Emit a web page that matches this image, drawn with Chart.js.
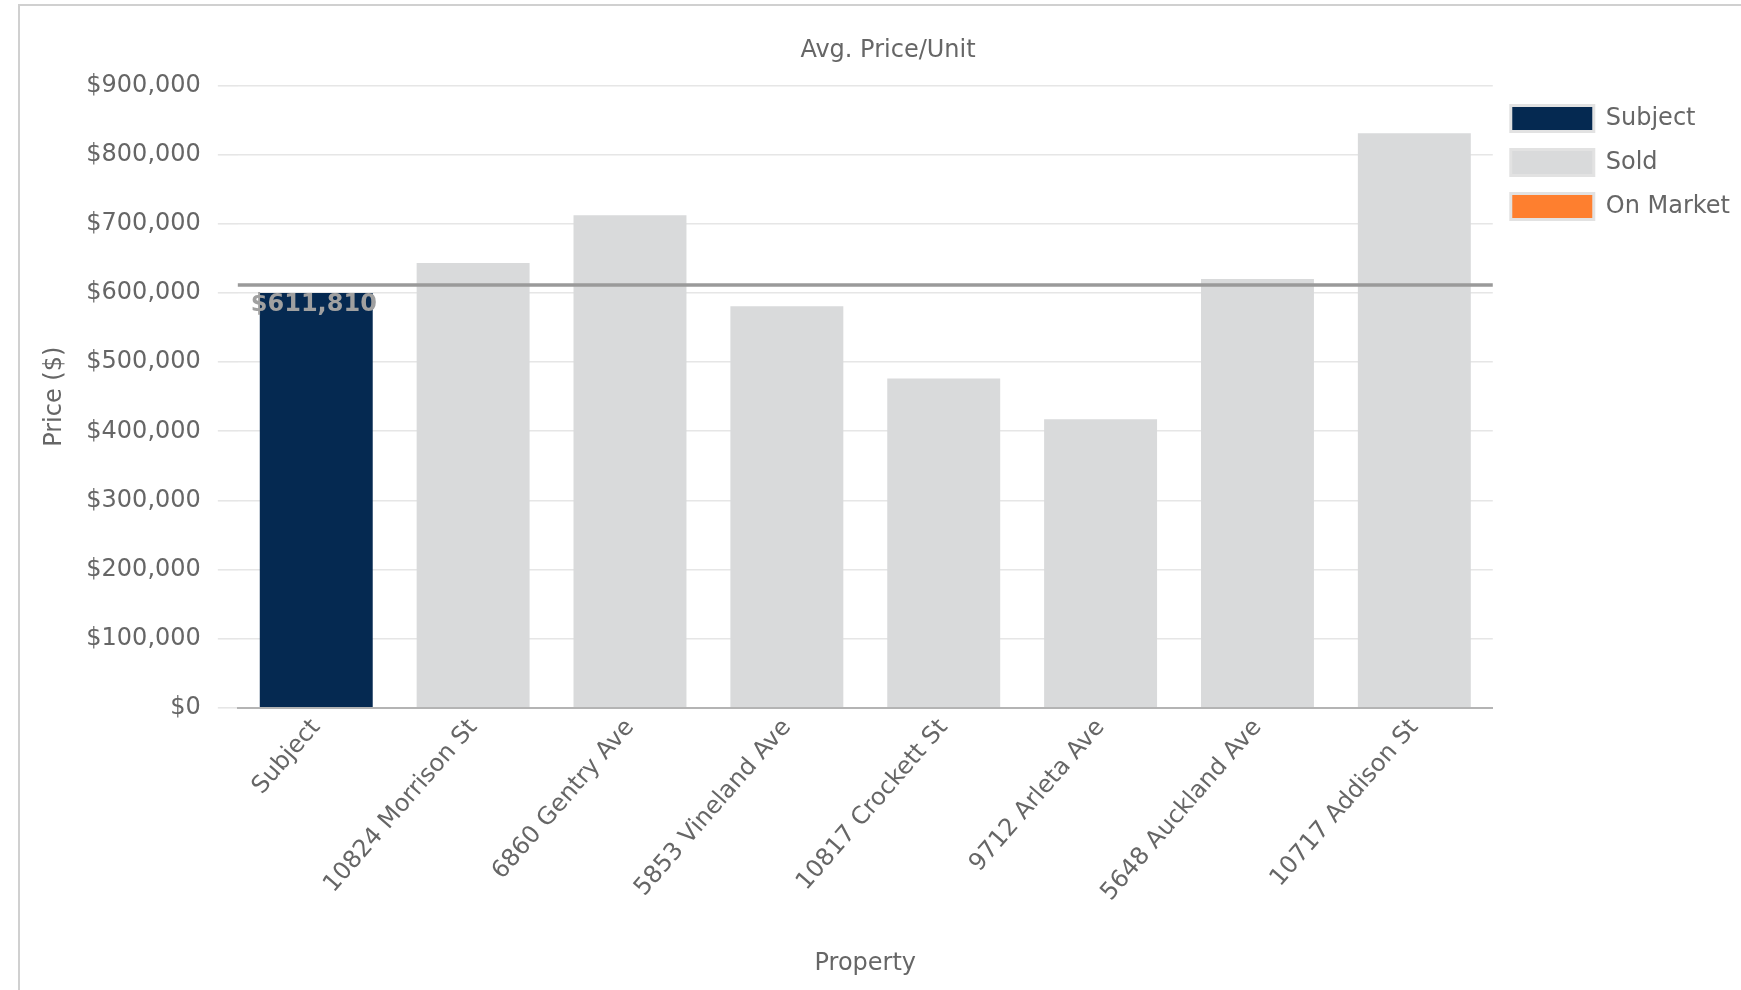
<!DOCTYPE html>
<html>
<head>
<meta charset="utf-8">
<title>Avg. Price/Unit</title>
<script src="https://cdn.jsdelivr.net/npm/chart.js@4.4.1/dist/chart.umd.min.js"></script>
<style>
  html, body { margin: 0; padding: 0; background: #fff; overflow: hidden; }
  .frame {
    position: absolute; left: 18px; top: 4px;
    width: 1800px; height: 1100px;
    border: 2px solid #d0d0d0;
  }
  .chart-box {
    position: absolute; left: 20px; top: 6px;
    width: 1720px; height: 980px;
  }
</style>
</head>
<body>
<div class="frame"></div>
<div class="chart-box"><canvas id="priceChart"></canvas></div>
<script>
// 物件ごとの平均単価
const properties = ['Subject', '10824 Morrison St', '6860 Gentry Ave', '5853 Vineland Ave',
  '10817 Crockett St', '9712 Arleta Ave', '5648 Auckland Ave', '10717 Addison St'];
const subjectPrices = [600000, null, null, null, null, null, null, null];
const soldPrices = [null, 643500, 712700, 581000, 476300, 417400, 620500, 831270];
const onMarketPrices = [null, null, null, null, null, null, null, null];
const avgSoldPrice = 611810;

const yTickMax = 900000;
const yTickStep = 100000;

const TEXT = '#666666';
const FONT = 'DejaVu Sans';

// 売却済み平均の横線とラベル
const avgLinePlugin = {
  id: 'avgLine',
  afterDatasetsDraw(chart) {
    const { ctx, chartArea, scales } = chart;
    const y = scales.y.getPixelForValue(avgSoldPrice);
    ctx.save();
    ctx.strokeStyle = '#9a9a9a';
    ctx.lineWidth = 3.5;
    ctx.beginPath();
    ctx.moveTo(chartArea.left, y);
    ctx.lineTo(chartArea.right, y);
    ctx.stroke();

    ctx.font = `bold 24px "${FONT}"`;
    ctx.fillStyle = '#a0a0a0';
    ctx.textAlign = 'left';
    ctx.textBaseline = 'middle';
    ctx.fillText('$' + avgSoldPrice.toLocaleString('en-US'), chartArea.left + 13, y + 20);
    ctx.restore();
  }
};

const ctx = document.getElementById('priceChart').getContext('2d');
new Chart(ctx, {
  type: 'bar',
  data: {
    labels: properties,
    datasets: [
      { label: 'Subject', data: subjectPrices, backgroundColor: '#052951' },
      { label: 'Sold', data: soldPrices, backgroundColor: '#d9dadb' },
      { label: 'On Market', data: onMarketPrices, backgroundColor: '#fe7f2f' }
    ]
  },
  options: {
    responsive: true,
    maintainAspectRatio: false,
    animation: false,
    layout: { padding: { top: 30.8, bottom: 4.3, left: 16, right: 0 } },
    font: { family: FONT, size: 24 },
    plugins: {
      title: {
        display: true,
        text: 'Avg. Price/Unit',
        color: TEXT,
        font: { family: FONT, size: 24, weight: 'normal' },
        padding: { top: 0, bottom: 20.1 }
      },
      legend: {
        position: 'right',
        align: 'start',
        fullSize: false,
        // 空のタイトルで凡例を少し下げる
        title: { display: true, text: '', font: { size: 1.5 }, padding: 0 },
        labels: {
          color: TEXT,
          font: { family: FONT, size: 24 },
          boxWidth: 83,
          boxHeight: 26,
          padding: 18,
          generateLabels(chart) {
            const items = Chart.defaults.plugins.legend.labels.generateLabels(chart);
            items.forEach(it => { it.lineWidth = 3; it.strokeStyle = '#e2e2e2'; });
            return items;
          }
        }
      },
      tooltip: { enabled: false }
    },
    scales: {
      x: {
        stacked: true,
        grid: { display: false, drawTicks: false },
        border: { display: true, color: '#b4b4b4', width: 2 },
        ticks: {
          color: TEXT,
          font: { family: FONT, size: 24 },
          minRotation: 49,
          maxRotation: 49,
          padding: 6
        },
        title: {
          display: true,
          text: 'Property',
          color: TEXT,
          font: { family: FONT, size: 24 },
          padding: { top: 36, bottom: 4 }
        }
      },
      y: {
        stacked: true,
        min: 0,
        max: yTickMax,
        grid: { color: '#e6e6e6', lineWidth: 1.6, tickLength: 20 },
        border: { display: false },
        ticks: {
          stepSize: yTickStep,
          color: TEXT,
          font: { family: FONT, size: 24 },
          padding: 17,
          callback: v => '$' + Number(v).toLocaleString('en-US')
        },
        title: {
          display: true,
          text: 'Price ($)',
          color: TEXT,
          font: { family: FONT, size: 24 },
          padding: { top: 3.9, bottom: 0.6 }
        }
      }
    }
  },
  plugins: [avgLinePlugin]
});
</script>
</body>
</html>
